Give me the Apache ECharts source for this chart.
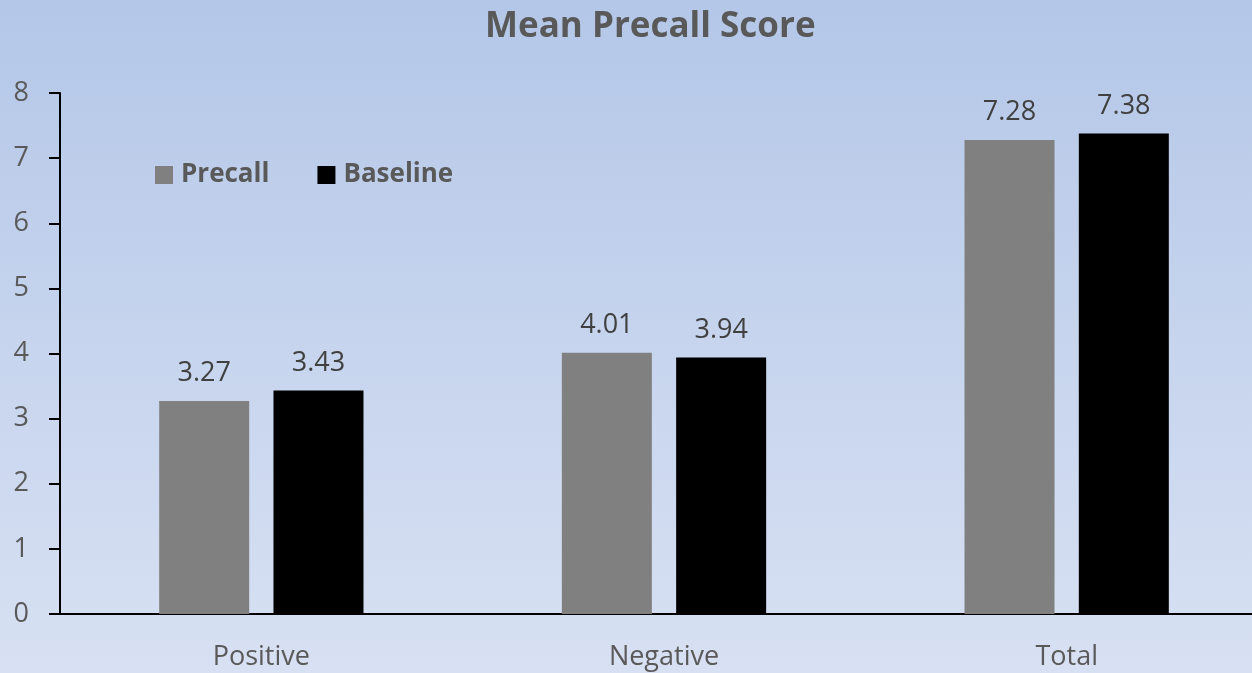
<!DOCTYPE html>
<html>
<head>
<meta charset="utf-8">
<title>Mean Precall Score</title>
<script src="https://cdn.jsdelivr.net/npm/echarts@6/dist/echarts.min.js"></script>
<style>
  html, body { margin: 0; padding: 0; }
  #chart { width: 1252px; height: 673px; }
</style>
</head>
<body>
<div id="chart"></div>
<script>
// Chart data
const categories = ['Positive', 'Negative', 'Total'];
const precallValues = [3.27, 4.01, 7.28];
const baselineValues = [3.43, 3.94, 7.38];
const yTicks = { min: 0, max: 8, interval: 1 };

const textGray = '#595959';
const fontFamily = '"Open Sans", "Noto Sans", sans-serif';

const chart = echarts.init(document.getElementById('chart'), null, { renderer: 'canvas' });

const labelStyle = {
  show: true,
  position: 'top',
  distance: 14,
  color: '#404040',
  fontSize: 27,
  fontFamily: fontFamily
};

chart.setOption({
  backgroundColor: {
    type: 'linear', x: 0, y: 0, x2: 0, y2: 1,
    colorStops: [
      { offset: 0, color: '#b4c7e8' },
      { offset: 1, color: '#d8e1f3' }
    ]
  },
  animation: false,
  title: {
    text: 'Mean Precall Score',
    left: 480,
    top: 5,
    textStyle: { color: textGray, fontSize: 35, fontWeight: 'bold', fontFamily: fontFamily }
  },
  legend: {
    left: 150,
    top: 157,
    itemWidth: 18,
    itemHeight: 18,
    itemGap: 48,
    icon: 'rect',
    textStyle: { color: textGray, fontSize: 26, fontWeight: 'bold', fontFamily: fontFamily, padding: [0, 0, 0, 3] },
    data: ['Precall', 'Baseline']
  },
  grid: {
    left: 60,
    top: 93,
    width: 1208,
    height: 521,
    containLabel: false,
    outerBoundsMode: 'none'
  },
  xAxis: {
    type: 'category',
    data: categories,
    axisLine: { lineStyle: { color: '#000', width: 2 } },
    axisTick: { show: false },
    axisLabel: { color: textGray, fontSize: 27, fontFamily: fontFamily, margin: 30 }
  },
  yAxis: {
    type: 'value',
    min: yTicks.min,
    max: yTicks.max,
    interval: yTicks.interval,
    splitLine: { show: false },
    axisLine: { show: true, lineStyle: { color: '#000', width: 2 } },
    axisTick: { show: true, length: 11, lineStyle: { color: '#000', width: 2 } },
    axisLabel: { color: textGray, fontSize: 27, fontFamily: fontFamily, margin: 31 }
  },
  series: [
    {
      name: 'Precall',
      type: 'bar',
      data: precallValues,
      barWidth: 90,
      barGap: '27%',
      itemStyle: { color: '#808080' },
      label: labelStyle
    },
    {
      name: 'Baseline',
      type: 'bar',
      data: baselineValues,
      barWidth: 90,
      itemStyle: { color: '#000000' },
      label: labelStyle
    }
  ]
});
</script>
</body>
</html>
